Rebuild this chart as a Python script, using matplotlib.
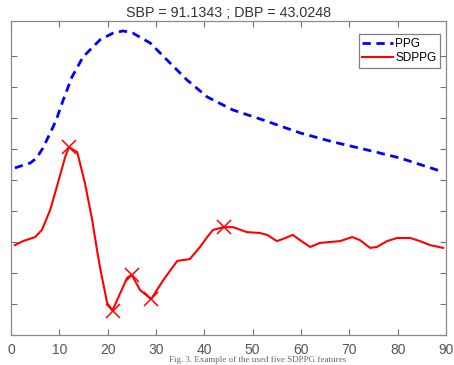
import matplotlib
matplotlib.use("Agg")
import matplotlib.pyplot as plt

# PPG waveform (blue dashed), y in arbitrary units (tick spacing = 1)
ppg_x = [0.8, 4.0, 5.3, 6.6, 8.7, 9.5, 10.8, 12.6, 14.9, 18.4, 21.1, 23.2, 25.2,
         28.8, 32.3, 36.4, 40.6, 45.9, 52.1, 59.8, 66.6, 73.7, 80.5, 89.4]
ppg_y = [5.39, 5.55, 5.71, 6.03, 6.71, 7.00, 7.58, 8.32, 8.97, 9.52, 9.74, 9.81, 9.74,
         9.42, 8.87, 8.23, 7.68, 7.26, 6.94, 6.52, 6.23, 5.97, 5.71, 5.26]

# second derivative of PPG (red solid)
sd_x = [0.8, 2.5, 5.0, 6.4, 8.1, 9.7, 11.2, 12.0, 13.7, 15.3, 16.8, 17.8, 18.4, 19.9,
        21.0, 22.6, 24.0, 25.0, 26.7, 29.0, 31.5, 34.4, 37.0, 39.1, 40.6, 41.8, 44.0,
        45.9, 48.8, 51.5, 53.0, 55.0, 56.3, 58.3, 59.8, 61.9, 63.9, 66.0, 68.1, 70.6,
        72.2, 74.3, 75.7, 77.8, 79.9, 82.6, 84.6, 86.7, 89.4]
sd_y = [2.90, 3.03, 3.16, 3.39, 4.03, 4.90, 5.74, 6.06, 5.90, 4.90, 3.71, 2.74, 2.19, 1.03,
        0.79, 1.35, 1.84, 1.94, 1.45, 1.16, 1.77, 2.39, 2.45, 2.84, 3.16, 3.39, 3.48,
        3.48, 3.32, 3.29, 3.23, 3.03, 3.10, 3.23, 3.06, 2.84, 2.97, 3.00, 3.03, 3.16,
        3.06, 2.81, 2.84, 3.03, 3.13, 3.13, 3.03, 2.90, 2.81]

# SDPPG feature points
feat_x = [12, 21, 25, 29, 44]
feat_y = [6.06, 0.79, 1.94, 1.16, 3.48]

sbp = 91.1343
dbp = 43.0248

fig = plt.figure(figsize=(4.54, 3.65), dpi=100)
ax = fig.add_axes([11 / 454, 30 / 365, 435 / 454, 314 / 365])

ax.plot(ppg_x, ppg_y, color="#0000ff", lw=2.0, dashes=(3, 2), label="PPG")
ax.plot(sd_x, sd_y, color="#ff0000", lw=1.5, label="SDPPG")
ax.plot(feat_x, feat_y, "x", color="#ff0000", ms=9.5, mew=1.1)

ax.set_xlim(0, 90)
ax.set_ylim(0, 10.13)
ax.set_xticks(range(0, 91, 10))
ax.set_yticks(range(0, 10))
ax.set_yticklabels([])
ax.tick_params(direction="in", top=True, right=True, length=4, width=0.8,
               color="#707070", labelcolor="#555555", labelsize=10, pad=6)
for s in ax.spines.values():
    s.set_color("#8a8a8a")
    s.set_linewidth(0.9)
for lab in ax.get_xticklabels():
    lab.set_fontfamily("Liberation Sans")

ax.set_title("SBP = %.4f ; DBP = %.4f" % (sbp, dbp), fontsize=10.3,
             family="Liberation Sans", color="#333333", pad=3)

leg = ax.legend(loc="upper right", bbox_to_anchor=(0.986, 0.958), borderaxespad=0,
                handlelength=2.6, handletextpad=0.2, borderpad=0.3, labelspacing=0.2,
                fancybox=False, framealpha=1,
                prop={"family": "Liberation Sans", "size": 8.5})
leg.get_frame().set_edgecolor("#808080")
leg.get_frame().set_linewidth(0.9)

# caption of the paper figure (mostly cropped away in the source)
fig.text(0.567, 0.002, "Fig. 3. Example of the used five SDPPG features", ha="center",
         va="bottom", family="Liberation Serif", fontsize=6.5, color="#666666")

fig.savefig("out.png", dpi=100)
